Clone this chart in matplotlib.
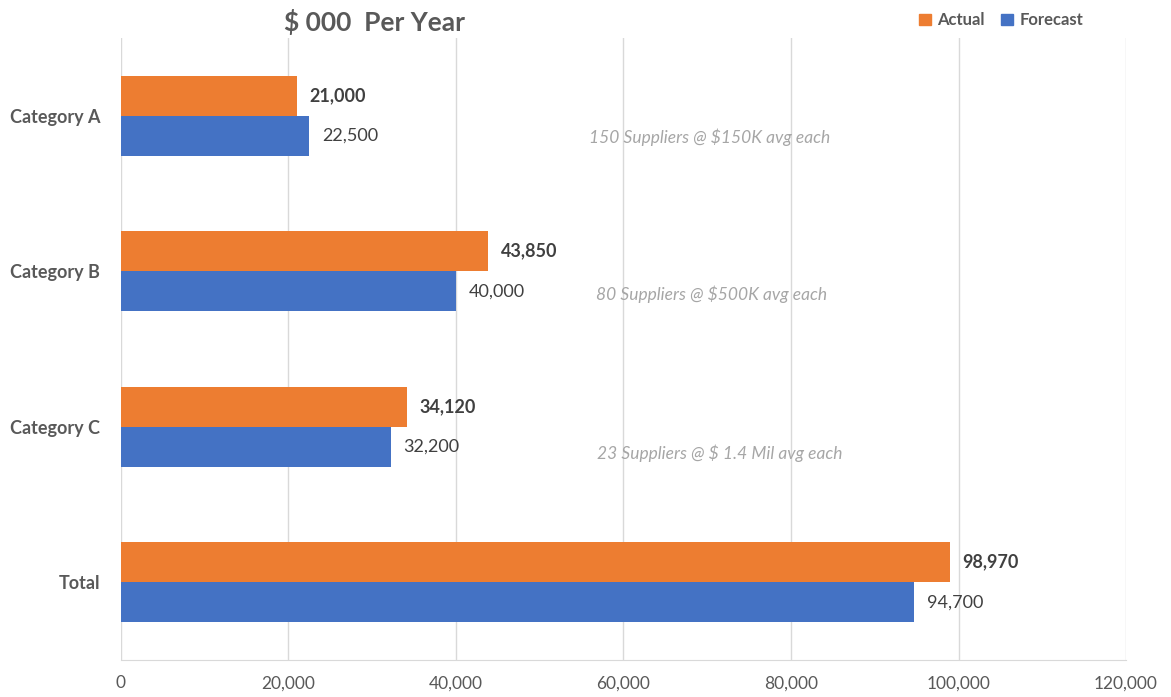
import matplotlib.pyplot as plt
import numpy as np
from matplotlib.patches import Patch

categories = ['Category A', 'Category B', 'Category C', 'Total']
actual = [21000, 43850, 34120, 98970]
forecast = [22500, 40000, 32200, 94700]
notes = ['150 Suppliers @ $150K avg each',
         '80 Suppliers @ $500K avg each',
         '23 Suppliers @ $ 1.4 Mil avg each']
note_x = [70300, 70500, 71500]
note_y = [0.14, 1.15, 2.17]

plt.rcParams['font.family'] = ['Lato', 'DejaVu Sans']

fig = plt.figure(figsize=(11.71, 6.97), dpi=100)
ax = fig.add_axes([0.1033, 0.0531, 0.8583, 0.8924])

orange = '#ED7D31'
blue = '#4472C4'
h = 0.258
y = np.arange(len(categories))

ax.barh(y - h / 2, actual, height=h, color=orange, zorder=3)
ax.barh(y + h / 2, forecast, height=h, color=blue, zorder=3)

for i in range(len(categories)):
    ax.text(actual[i] + 1500, y[i] - h / 2, f'{actual[i]:,}', va='center', ha='left',
            fontsize=13, fontweight='bold', color='#404040')
    ax.text(forecast[i] + 1500, y[i] + h / 2, f'{forecast[i]:,}', va='center', ha='left',
            fontsize=13, color='#404040')

for x, yy, t in zip(note_x, note_y, notes):
    ax.text(x, yy, t, ha='center', va='center', fontsize=12.5, style='italic', color='#a6a6a6')

ax.set_xlim(0, 120000)
ax.set_ylim(3.5, -0.5)
ax.set_xticks(np.arange(0, 120001, 20000))
ax.set_xticklabels([f'{v:,}' for v in range(0, 120001, 20000)], fontsize=12.5, color='#595959')
ax.set_yticks(y)
ax.set_yticklabels(categories, fontsize=13, fontweight='bold', color='#595959')
ax.tick_params(axis='both', length=0)
ax.tick_params(axis='x', pad=11)
ax.tick_params(axis='y', pad=15)

ax.grid(axis='x', color='#d9d9d9', linewidth=1, zorder=0)
for s in ['top', 'left', 'right']:
    ax.spines[s].set_visible(False)
ax.spines['bottom'].set_color('#d9d9d9')

fig.text(0.32, 0.968, '$ 000  Per Year', ha='center', va='center', fontsize=19,
         fontweight='bold', color='#595959')

handles = [Patch(color=orange, label='Actual'), Patch(color=blue, label='Forecast')]
fig.legend(handles=handles, loc='center', bbox_to_anchor=(0.855, 0.971), ncol=2, frameon=False,
           prop={'size': 12, 'weight': 'bold'}, labelcolor='#595959',
           handlelength=0.7, handleheight=0.7, handletextpad=0.4, columnspacing=1.0)

fig.savefig('out.png', dpi=100)
